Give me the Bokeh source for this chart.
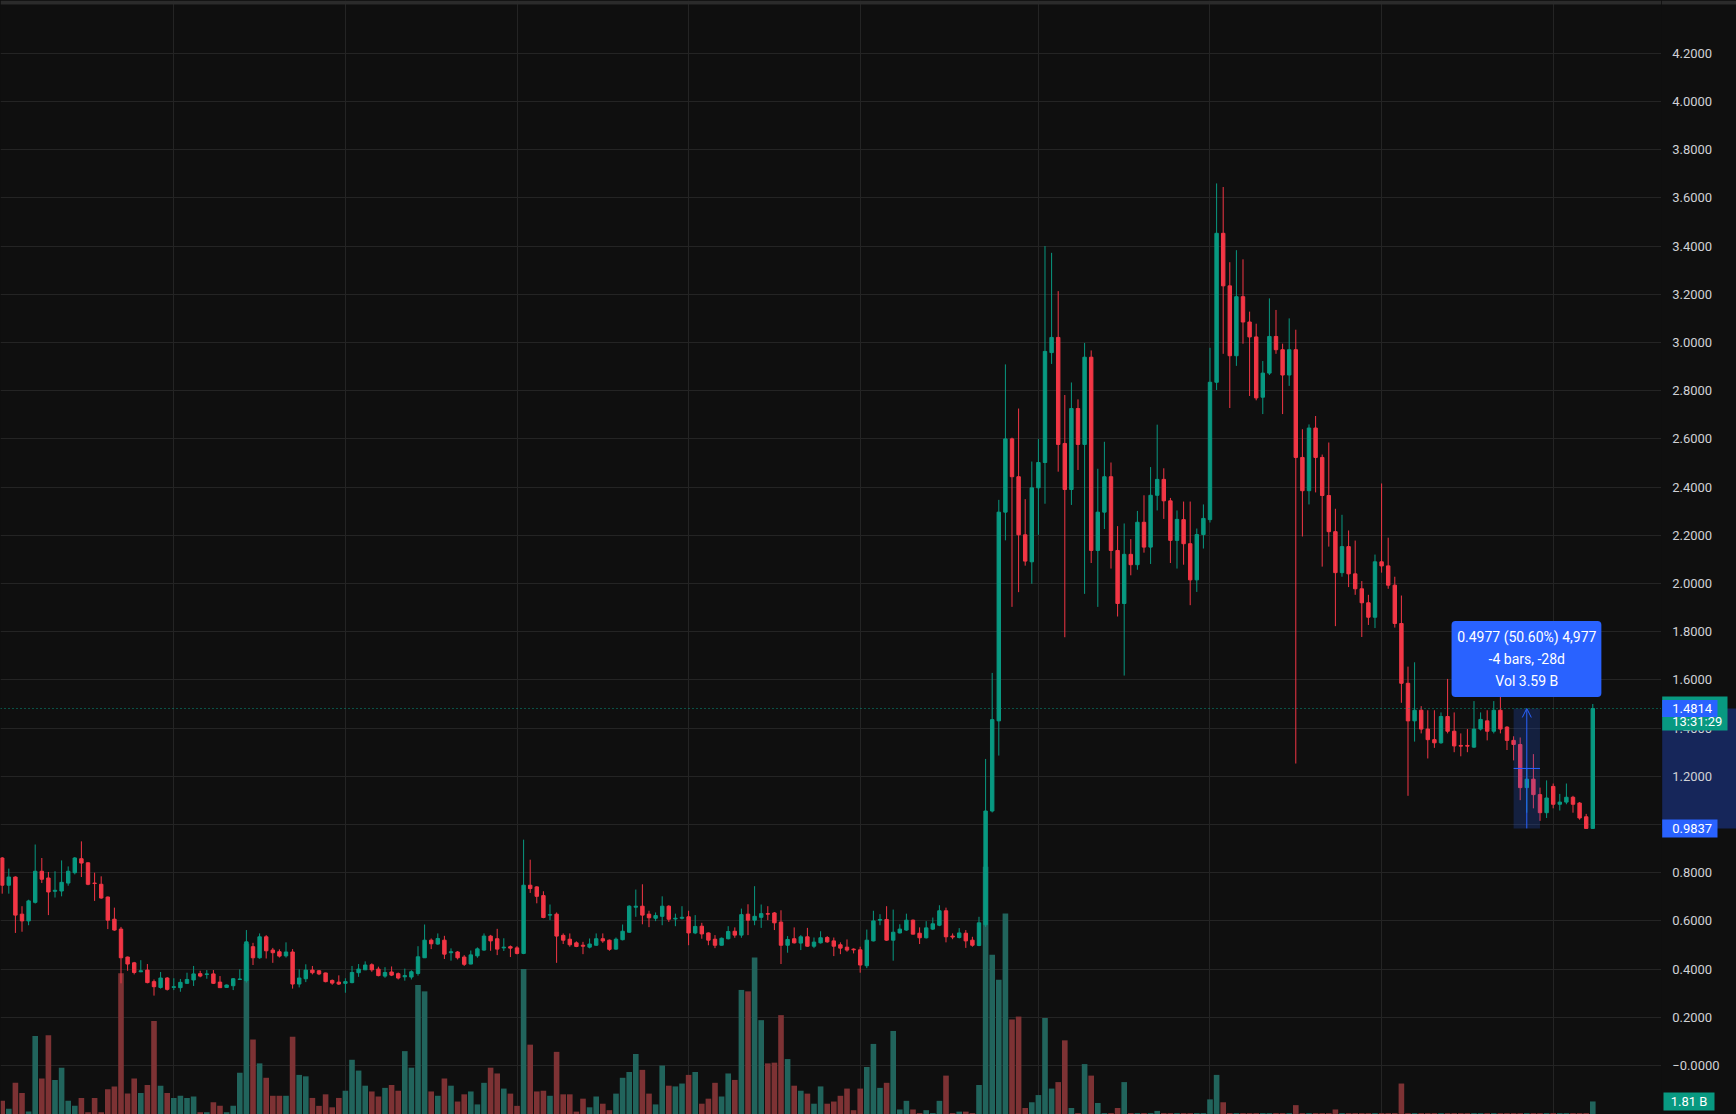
from bokeh.plotting import figure
from bokeh.layouts import row
from bokeh.models import (ColumnDataSource, Range1d, FixedTicker, Grid, Span,
                          Label, BoxAnnotation, Arrow, OpenHead, GlobalInlineStyleSheet)
from bokeh.core.properties import value
from bokeh.embed import file_html
from bokeh.resources import INLINE

# ---------------- data (weekly candles, price in USD, volume in billions) ----------------
opens = [
    0.861, 0.748, 0.782, 0.628, 0.600, 0.677, 0.806, 0.778, 0.723, 0.724,
    0.757, 0.800, 0.858, 0.841, 0.757, 0.752, 0.699, 0.607, 0.566, 0.450,
    0.426, 0.389, 0.396, 0.348, 0.324, 0.363, 0.324, 0.323, 0.341, 0.355,
    0.381, 0.378, 0.380, 0.346, 0.324, 0.331, 0.357, 0.352, 0.493, 0.447,
    0.534, 0.479, 0.472, 0.455, 0.471, 0.338, 0.360, 0.396, 0.393, 0.384,
    0.353, 0.346, 0.341, 0.344, 0.385, 0.397, 0.418, 0.400, 0.371, 0.388,
    0.381, 0.368, 0.367, 0.382, 0.447, 0.520, 0.504, 0.520, 0.468, 0.471,
    0.450, 0.421, 0.455, 0.479, 0.537, 0.526, 0.488, 0.493, 0.488, 0.465,
    0.748, 0.741, 0.705, 0.624, 0.628, 0.540, 0.524, 0.509, 0.499, 0.491,
    0.499, 0.526, 0.520, 0.483, 0.522, 0.553, 0.657, 0.661, 0.628, 0.611,
    0.619, 0.661, 0.608, 0.611, 0.617, 0.550, 0.578, 0.550, 0.524, 0.499,
    0.526, 0.557, 0.541, 0.628, 0.603, 0.615, 0.630, 0.633, 0.595, 0.499,
    0.526, 0.508, 0.534, 0.495, 0.509, 0.531, 0.517, 0.501, 0.491, 0.483,
    0.480, 0.414, 0.517, 0.603, 0.606, 0.520, 0.550, 0.562, 0.603, 0.549,
    0.530, 0.566, 0.582, 0.642, 0.537, 0.531, 0.549, 0.520, 0.498, 0.584,
    1.056, 1.430, 2.296, 2.600, 2.443, 2.202, 2.090, 2.397, 2.502, 2.958,
    3.021, 2.581, 2.390, 2.726, 2.577, 2.939, 2.137, 2.296, 2.443, 2.137,
    1.917, 2.121, 2.078, 2.254, 2.151, 2.366, 2.432, 2.343, 2.179, 2.265,
    2.165, 2.015, 2.203, 2.265, 2.835, 3.453, 3.235, 2.945, 3.190, 3.085,
    3.023, 2.773, 2.873, 3.025, 2.970, 2.865, 2.970, 2.523, 2.385, 2.645,
    2.523, 2.365, 2.215, 2.045, 2.153, 2.040, 1.978, 1.920, 1.860, 2.090,
    2.073, 1.993, 1.834, 1.586, 1.430, 1.474, 1.396, 1.352, 1.339, 1.448,
    1.387, 1.328, 1.328, 1.321, 1.396, 1.430, 1.387, 1.474, 1.404, 1.349,
    1.332, 1.153, 1.188, 1.124, 1.049, 1.158, 1.084, 1.093, 1.113, 1.089,
    1.032, 0.9837,
]
highs = [
    0.865, 0.817, 0.785, 0.661, 0.688, 0.917, 0.861, 0.803, 0.806, 0.851,
    0.826, 0.865, 0.930, 0.843, 0.800, 0.785, 0.701, 0.655, 0.575, 0.452,
    0.430, 0.437, 0.421, 0.357, 0.388, 0.367, 0.362, 0.359, 0.385, 0.413,
    0.393, 0.396, 0.396, 0.371, 0.336, 0.363, 0.399, 0.562, 0.509, 0.548,
    0.541, 0.488, 0.482, 0.511, 0.483, 0.399, 0.420, 0.413, 0.396, 0.385,
    0.357, 0.374, 0.362, 0.413, 0.421, 0.432, 0.424, 0.410, 0.408, 0.411,
    0.386, 0.402, 0.395, 0.495, 0.585, 0.527, 0.548, 0.538, 0.486, 0.475,
    0.458, 0.477, 0.490, 0.548, 0.542, 0.567, 0.528, 0.498, 0.495, 0.937,
    0.854, 0.744, 0.723, 0.668, 0.635, 0.548, 0.548, 0.515, 0.513, 0.527,
    0.548, 0.548, 0.523, 0.531, 0.585, 0.665, 0.730, 0.752, 0.642, 0.635,
    0.702, 0.665, 0.630, 0.661, 0.642, 0.624, 0.592, 0.552, 0.541, 0.531,
    0.578, 0.573, 0.651, 0.669, 0.744, 0.668, 0.661, 0.637, 0.644, 0.537,
    0.573, 0.541, 0.571, 0.531, 0.557, 0.537, 0.531, 0.511, 0.523, 0.486,
    0.493, 0.564, 0.642, 0.628, 0.661, 0.647, 0.586, 0.630, 0.606, 0.573,
    0.599, 0.614, 0.665, 0.655, 0.548, 0.570, 0.562, 0.534, 0.617, 1.272,
    1.629, 2.347, 2.909, 2.605, 2.726, 2.350, 2.506, 2.600, 3.400, 3.372,
    3.213, 2.782, 2.834, 2.764, 2.998, 2.967, 2.476, 2.588, 2.502, 2.238,
    2.249, 2.184, 2.301, 2.366, 2.483, 2.659, 2.478, 2.355, 2.303, 2.340,
    2.340, 2.228, 2.328, 2.978, 3.660, 3.645, 3.333, 3.383, 3.345, 3.128,
    3.078, 2.923, 3.183, 3.135, 2.995, 3.100, 3.053, 2.640, 2.660, 2.695,
    2.535, 2.585, 2.310, 2.285, 2.220, 2.178, 2.010, 1.953, 2.120, 2.415,
    2.190, 2.028, 1.950, 1.655, 1.673, 1.491, 1.474, 1.474, 1.465, 1.604,
    1.465, 1.378, 1.396, 1.512, 1.465, 1.474, 1.512, 1.534, 1.408, 1.366,
    1.361, 1.231, 1.292, 1.153, 1.183, 1.170, 1.127, 1.170, 1.119, 1.093,
    1.044, 1.500,
]
lows = [
    0.713, 0.713, 0.550, 0.555, 0.582, 0.672, 0.757, 0.624, 0.697, 0.702,
    0.746, 0.793, 0.782, 0.748, 0.683, 0.692, 0.566, 0.559, 0.341, 0.393,
    0.378, 0.387, 0.341, 0.290, 0.319, 0.311, 0.313, 0.306, 0.338, 0.330,
    0.366, 0.360, 0.338, 0.322, 0.322, 0.313, 0.355, 0.344, 0.417, 0.443,
    0.444, 0.426, 0.448, 0.448, 0.319, 0.324, 0.346, 0.378, 0.375, 0.345,
    0.335, 0.334, 0.302, 0.341, 0.368, 0.396, 0.389, 0.370, 0.364, 0.371,
    0.357, 0.352, 0.357, 0.373, 0.446, 0.483, 0.501, 0.442, 0.435, 0.440,
    0.413, 0.420, 0.447, 0.476, 0.476, 0.458, 0.475, 0.450, 0.461, 0.462,
    0.716, 0.673, 0.611, 0.603, 0.426, 0.504, 0.493, 0.491, 0.462, 0.486,
    0.497, 0.509, 0.476, 0.480, 0.519, 0.550, 0.617, 0.586, 0.574, 0.599,
    0.582, 0.596, 0.578, 0.606, 0.499, 0.545, 0.526, 0.499, 0.487, 0.498,
    0.523, 0.530, 0.530, 0.541, 0.582, 0.571, 0.603, 0.562, 0.421, 0.468,
    0.506, 0.479, 0.493, 0.487, 0.506, 0.509, 0.454, 0.462, 0.472, 0.465,
    0.385, 0.404, 0.515, 0.582, 0.517, 0.435, 0.548, 0.559, 0.544, 0.504,
    0.527, 0.562, 0.578, 0.511, 0.524, 0.527, 0.488, 0.493, 0.495, 0.575,
    1.050, 1.286, 2.179, 1.903, 1.964, 2.074, 1.999, 2.202, 2.331, 2.911,
    2.464, 1.777, 2.326, 2.471, 1.957, 2.085, 1.903, 2.226, 2.062, 1.863,
    1.618, 2.034, 2.057, 2.128, 2.081, 2.303, 2.268, 2.085, 2.062, 2.078,
    1.910, 1.965, 2.145, 2.253, 2.803, 2.953, 2.728, 2.903, 2.995, 2.778,
    2.760, 2.703, 2.865, 2.953, 2.703, 2.820, 1.253, 2.195, 2.328, 2.378,
    2.070, 2.153, 1.823, 2.028, 1.985, 1.953, 1.778, 1.828, 1.815, 2.045,
    1.978, 1.817, 1.505, 1.119, 1.344, 1.378, 1.274, 1.318, 1.335, 1.378,
    1.300, 1.283, 1.300, 1.318, 1.390, 1.349, 1.378, 1.378, 1.309, 1.266,
    1.101, 1.049, 1.067, 1.015, 1.027, 1.067, 1.058, 1.084, 1.049, 1.020,
    0.9837, 0.9837,
]
closes = [
    0.748, 0.782, 0.624, 0.600, 0.683, 0.806, 0.773, 0.720, 0.727, 0.760,
    0.806, 0.861, 0.840, 0.752, 0.755, 0.695, 0.603, 0.562, 0.447, 0.421,
    0.386, 0.393, 0.344, 0.327, 0.363, 0.316, 0.327, 0.345, 0.357, 0.380,
    0.371, 0.380, 0.341, 0.323, 0.334, 0.360, 0.359, 0.513, 0.447, 0.534,
    0.476, 0.468, 0.454, 0.471, 0.338, 0.363, 0.396, 0.385, 0.380, 0.348,
    0.342, 0.338, 0.348, 0.386, 0.400, 0.417, 0.397, 0.373, 0.386, 0.375,
    0.363, 0.373, 0.389, 0.451, 0.520, 0.505, 0.527, 0.462, 0.472, 0.447,
    0.420, 0.459, 0.484, 0.537, 0.517, 0.483, 0.491, 0.487, 0.465, 0.748,
    0.734, 0.702, 0.614, 0.626, 0.537, 0.520, 0.501, 0.494, 0.495, 0.504,
    0.526, 0.517, 0.482, 0.524, 0.557, 0.661, 0.661, 0.624, 0.613, 0.622,
    0.661, 0.607, 0.611, 0.615, 0.550, 0.577, 0.546, 0.520, 0.499, 0.528,
    0.556, 0.541, 0.626, 0.603, 0.619, 0.630, 0.628, 0.592, 0.499, 0.523,
    0.509, 0.534, 0.495, 0.512, 0.530, 0.513, 0.495, 0.487, 0.479, 0.480,
    0.417, 0.520, 0.600, 0.606, 0.520, 0.553, 0.566, 0.603, 0.545, 0.530,
    0.571, 0.588, 0.642, 0.534, 0.533, 0.550, 0.517, 0.499, 0.592, 1.056,
    1.435, 2.296, 2.600, 2.443, 2.202, 2.093, 2.397, 2.502, 2.963, 3.021,
    2.577, 2.390, 2.726, 2.577, 2.939, 2.137, 2.296, 2.443, 2.137, 1.917,
    2.121, 2.078, 2.254, 2.151, 2.366, 2.432, 2.343, 2.179, 2.266, 2.165,
    2.015, 2.203, 2.270, 2.835, 3.453, 3.235, 2.945, 3.190, 3.085, 3.023,
    2.770, 2.873, 3.025, 2.970, 2.865, 2.970, 2.523, 2.385, 2.645, 2.523,
    2.365, 2.215, 2.045, 2.153, 2.040, 1.978, 1.920, 1.860, 2.090, 2.073,
    1.993, 1.834, 1.586, 1.430, 1.474, 1.396, 1.352, 1.339, 1.448, 1.387,
    1.326, 1.325, 1.325, 1.396, 1.436, 1.387, 1.474, 1.396, 1.349, 1.332,
    1.153, 1.188, 1.124, 1.049, 1.110, 1.084, 1.093, 1.113, 1.084, 1.027,
    0.9837, 1.4814,
]
volumes_b = [
    1.9, 0.8, 4.4, 3.0, 0.4, 10.9, 5.0, 11.0, 4.8, 6.5,
    1.9, 1.2, 2.3, 0.3, 2.3, 0.3, 3.5, 3.9, 19.6, 2.9,
    5.0, 3.0, 4.1, 13.0, 4.0, 3.0, 2.3, 2.6, 2.3, 2.5,
    0.3, 0.3, 1.7, 1.2, 0.3, 1.2, 5.8, 23.7, 10.4, 7.1,
    5.1, 2.6, 2.6, 2.6, 10.8, 5.5, 5.3, 2.3, 1.2, 2.8,
    1.0, 2.3, 3.3, 7.6, 6.1, 4.0, 3.2, 2.5, 3.7, 4.1,
    3.3, 8.8, 6.5, 18.0, 17.1, 3.2, 2.6, 5.0, 4.0, 1.8,
    2.8, 3.2, 1.4, 4.4, 6.5, 5.7, 3.6, 2.9, 1.2, 20.2,
    9.7, 3.2, 3.3, 2.6, 8.7, 2.8, 2.8, 0.4, 2.2, 1.0,
    2.5, 1.5, 0.6, 2.9, 5.1, 5.9, 8.4, 6.2, 2.9, 1.4,
    6.8, 4.0, 3.9, 4.3, 5.5, 5.9, 1.5, 2.2, 4.4, 2.5,
    5.7, 4.8, 17.3, 17.1, 21.8, 13.1, 7.1, 7.2, 13.8, 7.7,
    4.0, 3.3, 2.9, 1.5, 3.9, 1.5, 1.8, 2.6, 3.6, 0.6,
    3.6, 6.6, 9.8, 3.7, 4.4, 11.6, 0.7, 1.9, 0.7, 0.2,
    0.6, 0.2, 1.9, 5.4, 0.2, 0.4, 0.4, 0.2, 4.1, 34.4,
    22.2, 18.7, 27.9, 13.2, 13.6, 0.9, 1.7, 2.7, 13.4, 3.6,
    4.5, 10.3, 0.9, 0.2, 7.0, 5.4, 1.6, 0.2, 0.2, 0.9,
    4.5, 0.2, 0.2, 0.2, 0.2, 0.5, 0.2, 0.2, 0.2, 0.2,
    0.2, 0.2, 0.2, 2.1, 5.5, 1.7, 0.2, 0.2, 0.2, 0.2,
    0.2, 0.2, 0.2, 0.2, 0.2, 0.2, 1.3, 0.2, 0.2, 0.2,
    0.2, 0.2, 0.7, 0.2, 0.2, 0.2, 0.2, 0.2, 0.2, 0.2,
    0.2, 0.2, 4.3, 0.2, 0.2, 0.2, 0.2, 0.2, 0.2, 0.2,
    0.2, 0.2, 0.2, 0.2, 0.2, 0.2, 0.2, 0.2, 0.2, 0.2,
    0.2, 0.2, 0.2, 0.2, 0.2, 0.2, 0.2, 0.2, 0.2, 0.2,
    0.2, 1.81,
]
price_ticks = [4.2, 4.0, 3.8, 3.6, 3.4, 3.2, 3.0, 2.8, 2.6, 2.4, 2.2,
               2.0, 1.8, 1.6, 1.4, 1.2, 1.0, 0.8, 0.6, 0.4, 0.2, 0.0]
price_tick_labels = ["4.2000", "4.0000", "3.8000", "3.6000", "3.4000", "3.2000",
                     "3.0000", "2.8000", "2.6000", "2.4000", "2.2000", "2.0000",
                     "1.8000", "1.6000", "1.4000", "1.2000", "1.0000", "0.8000",
                     "0.6000", "0.4000", "0.2000", "\u22120.0000"]
time_grid_bars = [26, 52, 78, 104, 130, 157, 183, 209, 235]   # time-scale separators
last_price_label = "1.4814"
countdown_label = "13:31:29"
last_volume_label = "1.81 B"
measure_from_bar, measure_to_bar = 229, 233
measure_low, measure_high = 0.9837, 1.4814
measure_low_label = "0.9837"
measure_lines = ["0.4977 (50.60%) 4,977", "-4 bars, -28d", "Vol 3.59 B"]

# ---------------- layout / style constants ----------------
H = 1114
W_MAIN, W_SCALE = 1661, 75
X0, X1 = -0.258, 251.41         # bar-index range of the plotting area
Y0, Y1 = -0.2033, 4.419         # price range
V0, V1 = 0.0, 154.7             # volume range (billions)
PPX = (Y1 - Y0) / H             # price per screen pixel
BG = "#0f0f0f"
FRAME = "#2b2b2b"
UP, DOWN = "#089981", "#F23645"
VUP, VDOWN = "#21645c", "#7d3234"
GRID = "#242424"
BLUE = "#2962FF"
SCALE_TEXT = "#cfd1d6"
FONT = "Roboto"

n = len(closes)
bars = list(range(n))
is_up = [c >= o for o, c in zip(opens, closes)]
src = ColumnDataSource(dict(
    x=bars,
    hi=[max(h, o, c) for h, o, c in zip(highs, opens, closes)],
    lo=[min(l, o, c) for l, o, c in zip(lows, opens, closes)],
    bt=[max(o, c) for o, c in zip(opens, closes)],
    bb=[min(o, c) for o, c in zip(opens, closes)],
    v=volumes_b,
    cc=[UP if u else DOWN for u in is_up],
    vc=[VUP if u else VDOWN for u in is_up],
))

y_range = Range1d(Y0, Y1)
vol_range = Range1d(V0, V1)

def base_fig(width, x_range):
    f = figure(width=width, height=H, output_backend="svg", toolbar_location=None,
               x_range=x_range, y_range=y_range,
               x_axis_location=None, y_axis_location=None,
               min_border_left=0, min_border_top=0, min_border_bottom=0, min_border_right=0,
               background_fill_color=BG, border_fill_color=BG, outline_line_color=None)
    f.center = [r for r in f.center if not isinstance(r, Grid)]
    f.extra_y_ranges = {"vol": vol_range}
    return f

# ================= main chart pane =================
p = base_fig(W_MAIN, Range1d(X0, X1))
p.stylesheets = [GlobalInlineStyleSheet(css="html, body { background-color: #0f0f0f; }")]

p.add_layout(Grid(dimension=0, ticker=FixedTicker(ticks=time_grid_bars),
                  grid_line_color=GRID, grid_line_width=1))
p.add_layout(Grid(dimension=1, ticker=FixedTicker(ticks=price_ticks),
                  grid_line_color=GRID, grid_line_width=1))

# volume
p.vbar(x="x", top="v", bottom=0, width=0.85, fill_color="vc", line_color=None,
       y_range_name="vol", source=src)
# candles
p.segment(x0="x", y0="lo", x1="x", y1="hi", line_color="cc", line_width=1, source=src)
p.vbar(x="x", top="bt", bottom="bb", width=0.52, fill_color="cc", line_color="cc",
       line_width=1, source=src)

# last price line
p.add_layout(Span(location=closes[-1], dimension="width", line_color=UP,
                  line_dash="1 3", line_width=1))

# measure tool
p.quad(left=[measure_from_bar], right=[measure_to_bar], bottom=[measure_low], top=[measure_high],
       fill_color=BLUE, fill_alpha=0.2, line_color=None)
mid = (measure_low + measure_high) / 2
p.segment(x0=[measure_from_bar], y0=[mid], x1=[measure_to_bar], y1=[mid],
          line_color=BLUE, line_width=1)
mx = (measure_from_bar + measure_to_bar) / 2
p.add_layout(Arrow(x_start=mx, y_start=measure_low, x_end=mx, y_end=measure_high,
                   line_color=BLUE, line_width=1,
                   end=OpenHead(size=9, line_color=BLUE, line_width=1)))

# measure info box
p.add_layout(BoxAnnotation(left=219.6, right=242.3, bottom=1.529, top=1.844,
                           fill_color=BLUE, fill_alpha=1.0, line_color=None,
                           border_radius=4))
for txt, ty in zip(measure_lines, [1.778, 1.687, 1.597]):
    p.add_layout(Label(x=mx, y=ty, text=txt, text_align="center", text_baseline="middle",
                       text_color="#ffffff", text_font=FONT, text_font_size="14px"))

# thin window frame strip along the top
p.rect(x=[(X0 + X1) / 2], y=[Y1 - 2 * PPX], width=[X1 - X0], height=[4],
       height_units="screen", fill_color=FRAME, line_color=None)

# ================= price scale pane =================
pa = base_fig(W_SCALE, Range1d(0, W_SCALE))
# highlighted measured range on the scale
pa.quad(left=[0.7], right=[W_SCALE], bottom=[measure_low], top=[measure_high],
        fill_color="#16265a", line_color=None)
# tick labels
pa.text(x=[10.7] * len(price_ticks), y=price_ticks, text=price_tick_labels,
        text_align="left", text_baseline="middle", text_color=SCALE_TEXT,
        text_font=value(FONT), text_font_size="13px")
# countdown tag (behind the last-price tag)
last = closes[-1]
pa.rect(x=[33.35], y=[last - 5 * PPX], width=[65.3], height=[34], height_units="screen",
        fill_color=UP, line_color=None)
pa.text(x=[10.7], y=[last - 12.7 * PPX], text=[countdown_label], text_align="left",
        text_baseline="middle", text_color="#ffffff", text_font=value(FONT),
        text_font_size="13px")
# last price tag
pa.rect(x=[28.35], y=[last], width=[55.3], height=[17], height_units="screen",
        fill_color=BLUE, line_color=None)
pa.text(x=[10.7], y=[last], text=[last_price_label], text_align="left",
        text_baseline="middle", text_color="#ffffff", text_font=value(FONT),
        text_font_size="13px")
# measure low tag
pa.rect(x=[28.35], y=[measure_low], width=[55.3], height=[18], height_units="screen",
        fill_color=BLUE, line_color=None)
pa.text(x=[10.7], y=[measure_low], text=[measure_low_label], text_align="left",
        text_baseline="middle", text_color="#ffffff", text_font=value(FONT),
        text_font_size="13px")
# last volume tag
pa.rect(x=[27.5], y=[volumes_b[-1]], width=[51], height=[18], height_units="screen",
        fill_color=UP, line_color=None, y_range_name="vol")
pa.text(x=[27.5], y=[volumes_b[-1]], text=[last_volume_label], text_align="center",
        text_baseline="middle", text_color="#ffffff", text_font=value(FONT),
        text_font_size="13px", y_range_name="vol")
# frame strip along the top of the scale
pa.rect(x=[W_SCALE / 2], y=[Y1 - 2 * PPX], width=[W_SCALE], height=[4],
        height_units="screen", fill_color=FRAME, line_color=None)

layout = row(p, pa, spacing=0)
open("out.html", "w").write(file_html(layout, INLINE))
